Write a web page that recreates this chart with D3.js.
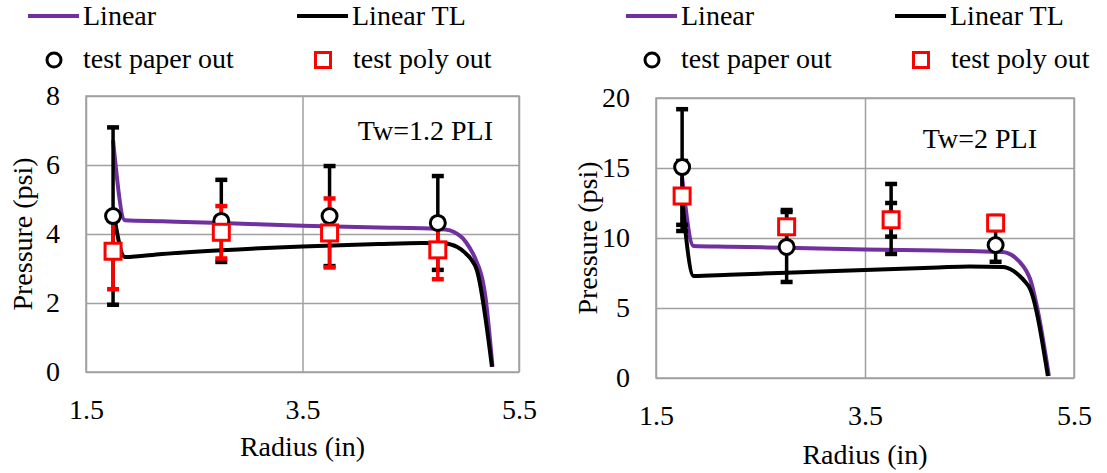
<!DOCTYPE html>
<html>
<head>
<meta charset="utf-8">
<script src="https://cdn.jsdelivr.net/npm/d3@7/dist/d3.min.js"></script>
<style>
  body { margin: 0; background: #fff; }
  svg, svg text { font-family: "Liberation Serif", "Times New Roman", Times, serif; }
</style>
</head>
<body>
<svg id="chart" width="1107" height="473"></svg>
<script>
// Shared axis values
const xTicks = [1.5, 3.5, 5.5];
const testRadius = [1.75, 2.75, 3.75, 4.75];

// Tw = 1.2 PLI
const yTicks12 = [0, 2, 4, 6, 8];
const linRadius12 = [1.75, 1.86, 2.2, 2.75, 3.5, 4.2, 4.6, 4.82, 4.9, 4.98, 5.04, 5.09, 5.19, 5.255];
const linPressure12 = [6.72, 4.40, 4.37, 4.32, 4.24, 4.19, 4.17, 4.13, 4.06, 3.88, 3.62, 3.33, 2.17, 0.15];
const tlRadius12 = [1.75, 1.86, 2.2, 2.75, 3.5, 4.2, 4.6, 4.8, 4.93, 5.0, 5.05, 5.11, 5.25];
const tlPressure12 = [4.7, 3.33, 3.42, 3.53, 3.64, 3.71, 3.74, 3.73, 3.62, 3.46, 3.3, 2.96, 0.15];
const paper12 = [4.52, 4.38, 4.52, 4.32];
const paperErr12 = [2.57, 1.19, 1.45, 1.36];
const poly12 = [3.5, 4.05, 4.03, 3.54];
const polyErr12 = [1.1, 0.76, 1.0, 0.85];

// Tw = 2 PLI
const yTicks2 = [0, 5, 10, 15, 20];
const linRadius2 = [1.75, 1.86, 2.2, 2.75, 3.5, 4.2, 4.5, 4.82, 4.9, 4.98, 5.04, 5.08, 5.15, 5.26];
const linPressure2 = [14.3, 9.43, 9.38, 9.3, 9.18, 9.1, 9.07, 9.0, 8.8, 8.29, 7.7, 7.07, 4.93, 0.14];
const tlRadius2 = [1.75, 1.86, 2.2, 2.75, 3.5, 4.2, 4.5, 4.82, 4.92, 4.98, 5.03, 5.08, 5.25];
const tlPressure2 = [12.8, 7.29, 7.38, 7.52, 7.72, 7.9, 7.97, 7.93, 7.65, 7.29, 6.9, 6.36, 0.14];
const paper2 = [15.07, 9.36, 11.36, 9.5];
const paperErr2 = [4.13, 2.5, 2.5, 1.2];
const poly2 = [13.0, 10.8, 11.3, 11.07];
const polyErr2 = [2.5, 1.2, 1.2, 0.5];

const FONT = 28;
const SERIF = '"Liberation Serif", "Times New Roman", Times, serif';
const PURPLE = "#7030A0";
const GRID = "#A0A0A0";

const svg = d3.select("#chart");

function txt(sel) {
  return sel.attr("font-family", SERIF).attr("font-size", FONT).attr("fill", "#000");
}

function drawPanel(cfg) {
  const { left, top, width, height, yMax, yTicks, label, labelX, labelY, legendX } = cfg;
  const x = d3.scaleLinear().domain([1.5, 5.5]).range([left, left + width]);
  const y = d3.scaleLinear().domain([0, yMax]).range([top + height, top]);
  const g = svg.append("g");

  // gridlines + tick labels
  const yAxis = g.append("g").attr("transform", `translate(${left},0)`)
    .call(d3.axisLeft(y).tickValues(yTicks).tickSize(-width).tickPadding(26).tickFormat(d3.format("d")));
  const xAxis = g.append("g").attr("transform", `translate(0,${top + height})`)
    .call(d3.axisBottom(x).tickValues(xTicks).tickSize(-height).tickPadding(27).tickFormat(d3.format(".1f")));
  [yAxis, xAxis].forEach(a => {
    a.select(".domain").remove();
    a.attr("font-family", SERIF).attr("font-size", FONT);
    a.selectAll(".tick line").attr("stroke", GRID).attr("stroke-width", 1.5);
    txt(a.selectAll(".tick text"));
  });
  g.append("rect")
    .attr("x", left).attr("y", top).attr("width", width).attr("height", height)
    .attr("fill", "none").attr("stroke", GRID).attr("stroke-width", 1.5);

  // axis titles
  txt(g.append("text"))
    .attr("x", left + width / 2).attr("y", cfg.xTitleY)
    .attr("text-anchor", "middle")
    .text("Radius (in)");
  txt(g.append("text"))
    .attr("transform", `translate(${cfg.yTitleX},${top + height / 2}) rotate(-90)`)
    .attr("text-anchor", "middle").attr("dy", "0.35em")
    .text("Pressure (psi)");

  // panel label
  txt(g.append("text"))
    .attr("x", labelX).attr("y", labelY)
    .attr("text-anchor", "end")
    .text(label);

  // model curves
  const line = d3.line().x(d => x(d[0])).y(d => y(d[1])).curve(d3.curveMonotoneX);
  g.append("path").datum(d3.zip(cfg.linR, cfg.linP))
    .attr("d", line).attr("fill", "none").attr("stroke", PURPLE).attr("stroke-width", 4);
  g.append("path").datum(d3.zip(cfg.tlR, cfg.tlP))
    .attr("d", line).attr("fill", "none").attr("stroke", "#000").attr("stroke-width", 4);

  // error bars
  function errBars(vals, errs, color) {
    const eg = g.append("g").attr("stroke", color);
    testRadius.forEach((r, i) => {
      const cx = x(r), y0 = y(vals[i] - errs[i]), y1 = y(vals[i] + errs[i]);
      eg.append("line").attr("x1", cx).attr("x2", cx).attr("y1", y0).attr("y2", y1).attr("stroke-width", 3.5);
      [y0, y1].forEach(yy => eg.append("line")
        .attr("x1", cx - 6).attr("x2", cx + 6).attr("y1", yy).attr("y2", yy).attr("stroke-width", 4.5));
    });
  }
  errBars(cfg.paper, cfg.paperErr, "#000");
  errBars(cfg.poly, cfg.polyErr, cfg.polyErrColor);

  // measured points
  g.append("g").selectAll("circle").data(d3.zip(testRadius, cfg.paper)).join("circle")
    .attr("cx", d => x(d[0])).attr("cy", d => y(d[1])).attr("r", 7.5)
    .attr("fill", "#fff").attr("stroke", "#000").attr("stroke-width", 3);
  g.append("g").selectAll("rect").data(d3.zip(testRadius, cfg.poly)).join("rect")
    .attr("x", d => x(d[0]) - 8).attr("y", d => y(d[1]) - 8).attr("width", 16).attr("height", 16)
    .attr("fill", "#fff").attr("stroke", "#FF0000").attr("stroke-width", 3);

  // legend
  const lg = g.append("g").attr("transform", `translate(${legendX},0)`);
  lg.append("line").attr("x1", 28).attr("x2", 79).attr("y1", 16).attr("y2", 16)
    .attr("stroke", PURPLE).attr("stroke-width", 4);
  txt(lg.append("text")).attr("x", 83).attr("y", 25).text("Linear");
  lg.append("line").attr("x1", 297).attr("x2", 348).attr("y1", 16).attr("y2", 16)
    .attr("stroke", "#000").attr("stroke-width", 4);
  txt(lg.append("text")).attr("x", 352).attr("y", 25).text("Linear TL");
  lg.append("circle").attr("cx", 54).attr("cy", 60).attr("r", 7)
    .attr("fill", "#fff").attr("stroke", "#000").attr("stroke-width", 3);
  txt(lg.append("text")).attr("x", 83).attr("y", 68).text("test paper out");
  lg.append("rect").attr("x", 315.5).attr("y", 52.5).attr("width", 15).attr("height", 15)
    .attr("fill", "#fff").attr("stroke", "#FF0000").attr("stroke-width", 3);
  txt(lg.append("text")).attr("x", 353).attr("y", 68).text("test poly out");
}

drawPanel({
  left: 86, top: 96, width: 433, height: 276, yMax: 8, yTicks: yTicks12,
  label: "Tw=1.2 PLI", labelX: 493, labelY: 140, legendX: 0,
  xTitleY: 456, yTitleX: 22,
  linR: linRadius12, linP: linPressure12, tlR: tlRadius12, tlP: tlPressure12,
  paper: paper12, paperErr: paperErr12, poly: poly12, polyErr: polyErr12, polyErrColor: "#FF0000"
});

drawPanel({
  left: 656, top: 98, width: 418, height: 280, yMax: 20, yTicks: yTicks2,
  label: "Tw=2 PLI", labelX: 1037, labelY: 148, legendX: 598,
  xTitleY: 464, yTitleX: 587,
  linR: linRadius2, linP: linPressure2, tlR: tlRadius2, tlP: tlPressure2,
  paper: paper2, paperErr: paperErr2, poly: poly2, polyErr: polyErr2, polyErrColor: "#000"
});
</script>
</body>
</html>
